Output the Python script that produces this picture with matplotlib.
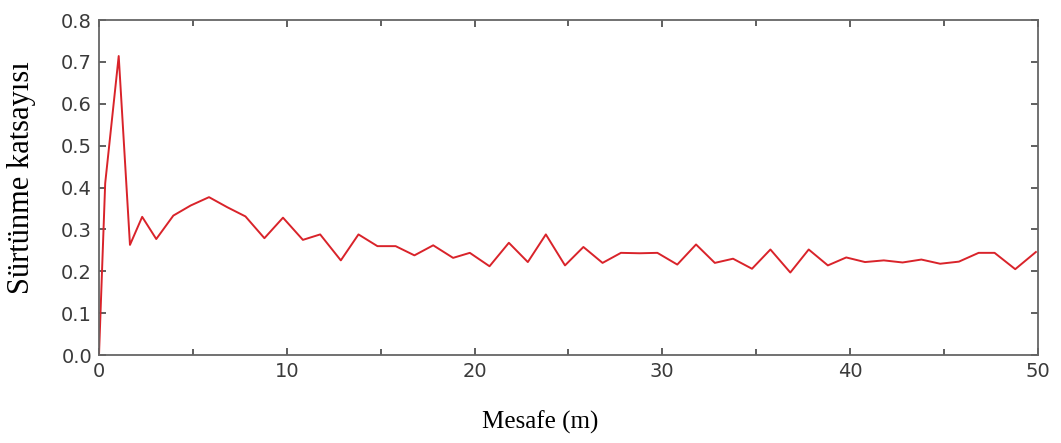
import numpy as np
import matplotlib.pyplot as plt
from matplotlib.ticker import MultipleLocator

# Friction coefficient vs distance
mesafe = [0, 0.33, 1.05, 1.65, 2.3, 3.05, 3.96, 4.88, 5.86, 6.83, 7.8, 8.81, 9.8,
          10.86, 11.78, 12.88, 13.82, 14.83, 15.8, 16.8, 17.8, 18.86, 19.75, 20.8,
          21.83, 22.84, 23.8, 24.82, 25.8, 26.82, 27.8, 28.8, 29.74, 30.8, 31.8,
          32.8, 33.77, 34.78, 35.76, 36.82, 37.8, 38.82, 39.8, 40.8, 41.8, 42.8,
          43.8, 44.8, 45.8, 46.85, 47.7, 48.8, 49.9]
surtunme = [0, 0.41, 0.714, 0.263, 0.33, 0.277, 0.333, 0.357, 0.377, 0.353, 0.331,
            0.279, 0.328, 0.275, 0.288, 0.226, 0.288, 0.26, 0.26, 0.238, 0.262, 0.232,
            0.244, 0.212, 0.268, 0.222, 0.288, 0.214, 0.258, 0.220, 0.244, 0.243,
            0.244, 0.216, 0.264, 0.220, 0.230, 0.206, 0.252, 0.197, 0.252, 0.214,
            0.233, 0.222, 0.226, 0.221, 0.228, 0.218, 0.223, 0.244, 0.244, 0.205, 0.246]

fig = plt.figure(figsize=(10.61, 4.43), dpi=100)
ax = fig.add_axes([0.0933, 0.1986, 0.8848, 0.7562])

ax.plot(mesafe, surtunme, color="#d9232a", linewidth=1.4)

ax.set_xlim(0, 50)
ax.set_ylim(0, 0.8)
ax.xaxis.set_major_locator(MultipleLocator(10))
ax.xaxis.set_minor_locator(MultipleLocator(5))
ax.yaxis.set_major_locator(MultipleLocator(0.1))
ax.yaxis.set_major_formatter(plt.FormatStrFormatter("%.1f"))

ax.tick_params(which="both", direction="in", top=True, right=True,
               color="#444444", width=1.2)
ax.tick_params(which="major", length=5, labelsize=14, labelcolor="#3a3a3a", pad=5)
ax.tick_params(which="minor", length=4)
for lab in ax.get_xticklabels() + ax.get_yticklabels():
    lab.set_family("DejaVu Sans")
for sp in ax.spines.values():
    sp.set_color("#666666")
    sp.set_linewidth(1.3)

ax.set_xlabel("Mesafe (m)", fontsize=18, family="Liberation Serif")
ax.set_ylabel("Sürtünme katsayısı", fontsize=22, family="Liberation Serif")
ax.xaxis.set_label_coords(0.47, -0.165)
ax.yaxis.set_label_coords(-0.067, 0.53)

fig.savefig("out.png", dpi=100)
